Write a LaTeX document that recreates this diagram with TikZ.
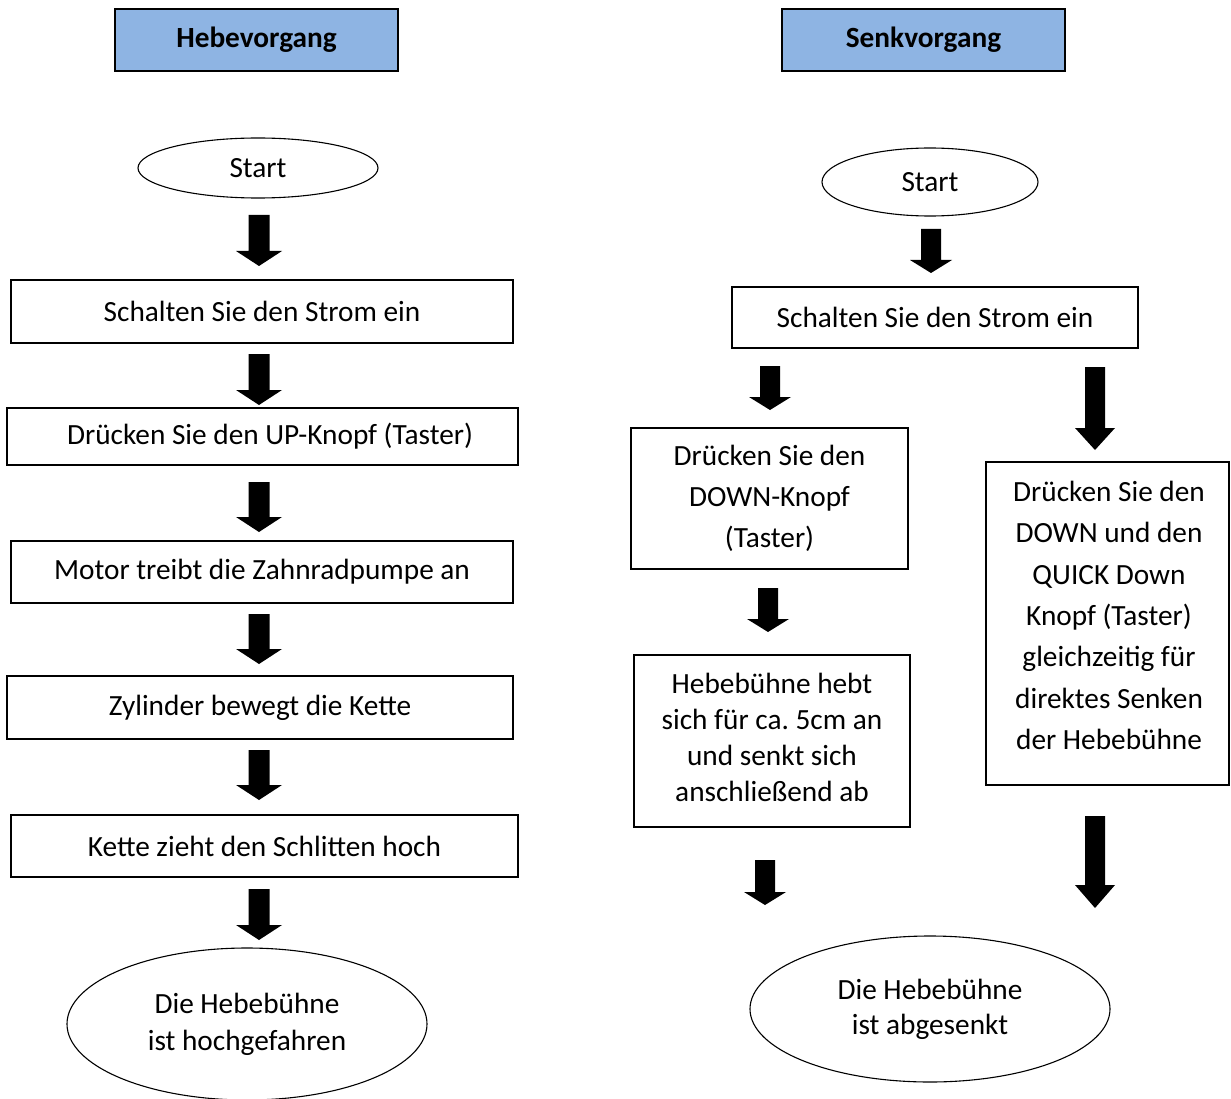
\documentclass[tikz,border=0pt]{standalone}
\usepackage{fontspec}
\setmainfont{Carlito}
\frenchspacing
\usetikzlibrary{shapes.geometric}
\definecolor{hdrblue}{HTML}{8EB4E3}
\newcommand{\fsz}[1]{\fontsize{29.3}{#1}\selectfont}
\tikzset{
  box/.style={draw, line width=1.3pt, inner sep=0pt, align=center, font=\fsz{41.3}},
  txt/.style={inner sep=0pt, align=center, font=\fsz{41.3}},
  hdr/.style={box, fill=hdrblue, font=\fsz{36}\bfseries},
  oval/.style={draw, ellipse, line width=1.1pt, inner sep=0pt, align=center, font=\fsz{37}},
  blockarrow/.style={fill=black}
}
% \barrow{cx}{top}{tip}{shaft half}{head half}{head length}
\newcommand{\barrow}[6]{%
  \fill[blockarrow] (#1-#4,#2) -- (#1+#4,#2) -- (#1+#4,#3-#6) -- (#1+#5,#3-#6)
    -- (#1,#3) -- (#1-#5,#3-#6) -- (#1-#4,#3-#6) -- cycle;}
\begin{document}
\begin{tikzpicture}[x=1pt,y=-1pt]
\useasboundingbox (0,0) rectangle (1231,1099);
\fill[white] (0,0) rectangle (1231,1099);

% ---------- Hebevorgang ----------
\node[hdr, minimum width=283pt, minimum height=62pt] (h1) at (256.5,40) {Hebevorgang};
\node[oval, minimum width=240pt, minimum height=60pt] (s1) at (258,168) {Start};
\node[box, minimum width=502pt, minimum height=63pt] (b1) at (262,311.5) {Schalten Sie den Strom ein};
\node[box, minimum width=511pt, minimum height=57pt] (b2) at (262.5,436.5) {\hspace*{15pt}Drücken Sie den UP-Knopf (Taster)};
\node[box, minimum width=502pt, minimum height=62pt] (b3) at (262,572) {Motor treibt die Zahnradpumpe an};
\node[box, minimum width=506pt, minimum height=63pt] (b4) at (260,707.5) {Zylinder bewegt die Kette};
\node[box, minimum width=507pt, minimum height=62pt] (b5) at (264.5,846) {Kette zieht den Schlitten hoch};
\node[oval, minimum width=360pt, minimum height=152pt] (e1) at (247,1024) {Die Hebebühne\\ist hochgefahren};

\barrow{259}{215}{266}{10.5}{23}{15}
\barrow{259}{354}{405}{10.5}{23}{15}
\barrow{259}{482}{532}{10.5}{23}{15}
\barrow{259}{614}{664}{10.5}{23}{15}
\barrow{259}{750}{800}{10.5}{23}{15}
\barrow{259}{889}{940}{10.5}{23}{15}

% ---------- Senkvorgang ----------
\node[hdr, minimum width=283pt, minimum height=62pt] (h2) at (923.5,40) {Senkvorgang};
\node[oval, minimum width=216pt, minimum height=68pt] (s2) at (930,182) {Start};
\node[box, minimum width=406pt, minimum height=61pt] (b6) at (935,317.5) {Schalten Sie den Strom ein};
\node[box, minimum width=277pt, minimum height=141pt] (b7) at (769.5,498.5) {Drücken Sie den\\DOWN-Knopf\\(Taster)};
\node[box, minimum width=243pt, minimum height=323pt] (b8) at (1107.5,623.5) {};
\node[txt] (b8t) at ([xshift=1.5pt,yshift=8pt]b8.center) {Drücken Sie den\\DOWN und den\\QUICK Down\\Knopf (Taster)\\gleichzeitig für\\direktes Senken\\der Hebebühne};
\node[box, minimum width=276pt, minimum height=172pt] (b9) at (772,741) {};
\node[txt, font=\fsz{36}] (b9t) at ([yshift=4pt]b9.center) {Hebebühne hebt\\sich für ca. 5cm an\\und senkt sich\\anschließend ab};
\node[oval, minimum width=360pt, minimum height=146pt, font=\fsz{35}] (e2) at (930,1009) {Die Hebebühne\\ist abgesenkt};

\barrow{931}{229}{273}{10}{21}{13}
\barrow{770}{366}{410}{10}{21}{13}
\barrow{1095}{367}{450}{10}{20}{22}
\barrow{768}{588}{632}{10}{21}{13}
\barrow{765}{860}{905}{10}{21}{13}
\barrow{1095}{816}{908}{10}{20}{23}
\end{tikzpicture}
\end{document}
